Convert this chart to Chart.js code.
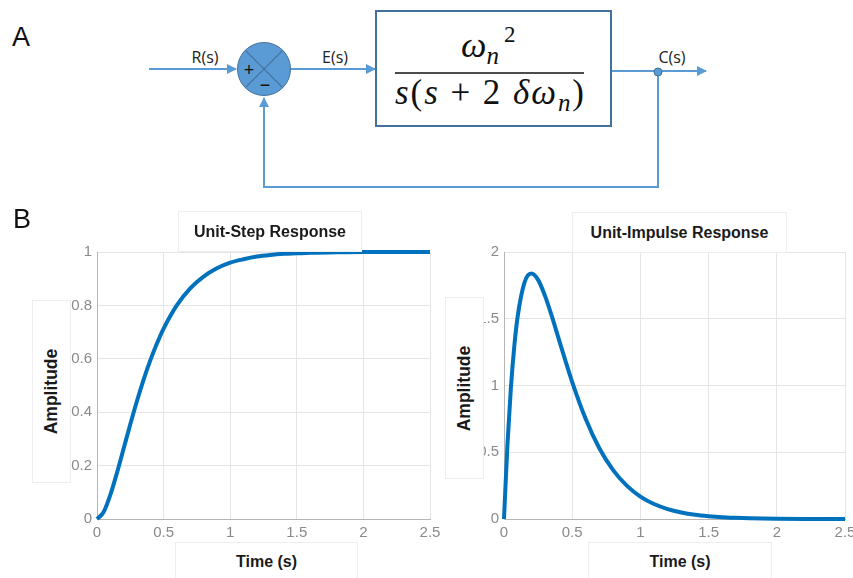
<!DOCTYPE html>
<html><head><meta charset="utf-8">
<script src="https://cdn.jsdelivr.net/npm/chart.js@4/dist/chart.umd.min.js"></script>
<style>
html,body{margin:0;padding:0;background:#fff;}
body{width:853px;height:578px;position:relative;overflow:hidden;font-family:"Liberation Sans",Arial,sans-serif;}
.abs{position:absolute;}
.box{position:absolute;background:#fff;border:1px solid #eeeeee;box-sizing:border-box;display:flex;align-items:center;justify-content:center;font-weight:bold;font-size:16px;color:#1a1a1a;}
.vbox span{transform:rotate(-90deg);white-space:nowrap;display:block;font-size:17.5px;}
.letter{position:absolute;font-family:"Liberation Sans",Arial,sans-serif;font-size:27px;color:#111;line-height:1;}
</style></head>
<body>
<svg class="abs" style="left:0;top:0" width="853" height="200" xmlns="http://www.w3.org/2000/svg">
  <defs>
    <marker id="ah" markerWidth="10" markerHeight="10" refX="9" refY="5" orient="auto" markerUnits="userSpaceOnUse">
      <path d="M0,0 L10,5 L0,10 z" fill="#5B9BD5"/>
    </marker>
  </defs>
  <g stroke="#5B9BD5" stroke-width="2" fill="none">
    <line x1="149" y1="69" x2="236" y2="69" marker-end="url(#ah)"/>
    <line x1="291" y1="69" x2="375" y2="69" marker-end="url(#ah)"/>
    <line x1="611" y1="71" x2="706" y2="71" marker-end="url(#ah)"/>
    <polyline points="658,72 658,187 264,187 264,98" marker-end="url(#ah)"/>
  </g>
  <circle cx="658" cy="72" r="4" fill="#5B9BD5" stroke="#41719C" stroke-width="1"/>
  <circle cx="264" cy="69" r="26.5" fill="#5B9BD5" stroke="#41719C" stroke-width="1"/>
  <g stroke="#41719C" stroke-width="1.2">
    <line x1="245.3" y1="50.3" x2="282.7" y2="87.7"/>
    <line x1="282.7" y1="50.3" x2="245.3" y2="87.7"/>
  </g>
  <text x="249" y="76" font-family="Liberation Sans, Arial, sans-serif" font-size="18" text-anchor="middle" fill="#111">+</text>
  <text x="265" y="91" font-family="Liberation Sans, Arial, sans-serif" font-size="18" text-anchor="middle" fill="#111">−</text>
  <g font-family="Open Sans, Liberation Sans, sans-serif" font-size="16" fill="#222" text-anchor="middle">
    <text x="205" y="63">R(s)</text>
    <text x="335" y="63">E(s)</text>
    <text x="672" y="63">C(s)</text>
  </g>
  <rect x="376" y="11" width="235" height="115" fill="#fff" stroke="#41719C" stroke-width="2"/>
  <line x1="395" y1="73" x2="584" y2="73" stroke="#111" stroke-width="1.5"/>
  <text x="461" y="57" font-family="Liberation Serif, DejaVu Serif, serif" font-size="36" fill="#111"><tspan font-style="italic">ω</tspan><tspan font-style="italic" font-size="25" dy="7">n</tspan><tspan font-size="23" dy="-22" dx="5">2</tspan></text>
  <text x="395" y="104" textLength="189" lengthAdjust="spacing" font-family="Liberation Serif, DejaVu Serif, serif" font-size="35" fill="#111"><tspan font-style="italic">s</tspan><tspan>(</tspan><tspan font-style="italic">s</tspan><tspan> + 2 </tspan><tspan font-style="italic">δω</tspan><tspan font-style="italic" font-size="25" dy="7">n</tspan><tspan dy="-7">)</tspan></text>
</svg>

<div class="abs" style="left:0;top:195px;width:440px;height:383px;"><canvas id="c1" width="440" height="383"></canvas></div>
<div class="abs" style="left:440px;top:195px;width:413px;height:383px;"><canvas id="c2" width="413" height="383"></canvas></div>

<div class="letter" style="left:12px;top:24px;">A</div>
<div class="letter" style="left:13px;top:206px;">B</div>

<div class="box" style="left:178px;top:211px;width:184px;height:41px;">Unit-Step Response</div>
<div class="box" style="left:572px;top:212px;width:215px;height:41px;">Unit-Impulse Response</div>
<div class="box vbox" style="left:32px;top:300px;width:39px;height:183px;"><span>Amplitude</span></div>
<div class="box vbox" style="left:445px;top:297px;width:39px;height:182px;"><span>Amplitude</span></div>
<div class="box" style="left:175px;top:542px;width:183px;height:40px;">Time (s)</div>
<div class="box" style="left:588px;top:542px;width:184px;height:40px;">Time (s)</div>

<script>
// Unit-step response
const stepTime = [0,0.05,0.1,0.15,0.2,0.25,0.3,0.35,0.4,0.45,0.5,0.6,0.7,0.8,0.9,1.0,1.1,1.2,1.3,1.4,1.5,1.6,1.8,2.0,2.2,2.5];
const stepAmp  = [0,0.026,0.090,0.173,0.264,0.355,0.442,0.522,0.594,0.657,0.713,0.801,0.864,0.908,0.939,0.960,0.973,0.983,0.989,0.993,0.995,0.997,0.999,1.0,1.0,1.0];
// Unit-impulse response
const impTime = [0,0.025,0.05,0.075,0.1,0.15,0.2,0.25,0.3,0.35,0.4,0.45,0.5,0.6,0.7,0.8,0.9,1.0,1.1,1.2,1.3,1.4,1.5,1.6,1.7,1.8,1.9,2.0,2.2,2.5];
const impAmp  = [0,0.552,0.974,1.289,1.516,1.771,1.839,1.791,1.673,1.521,1.353,1.186,1.026,0.747,0.528,0.366,0.250,0.168,0.112,0.074,0.049,0.032,0.021,0.013,0.0086,0.0055,0.0036,0.0023,0.0009,0.0001];
const xTicks = [0,0.5,1,1.5,2,2.5];
const stepYTicks = [0,0.2,0.4,0.6,0.8,1];
const impYTicks = [0,0.5,1,1.5,2];

const tickFont = {family:"Liberation Sans, Arial, sans-serif", size:15};
const tickColor = '#8a8a8a';

function makeChart(id, tx, ty, yTicks, yMax, yAxisW, padRight){
  const pts = tx.map((t,i)=>({x:t,y:ty[i]}));
  return new Chart(document.getElementById(id), {
    type:'line',
    data:{datasets:[{data:pts, borderColor:'#0072BD', borderWidth:4, pointRadius:0,
      cubicInterpolationMode:'monotone', fill:false, clip:6}]},
    options:{
      responsive:false, animation:false, maintainAspectRatio:false,
      layout:{padding:{left:0,right:padRight,top:57,bottom:29}},
      plugins:{legend:{display:false}, tooltip:{enabled:false}, title:{display:false}},
      scales:{
        x:{type:'linear', min:0, max:2.5,
          afterBuildTicks:(s)=>{s.ticks = xTicks.map(v=>({value:v}));},
          afterFit:(s)=>{s.height=30; s.paddingLeft=0; s.paddingRight=0;},
          ticks:{color:tickColor, font:tickFont, padding:5, maxRotation:0,
            callback:(v)=>String(v)},
          grid:{color:'#e4e4e4', drawTicks:false},
          border:{color:'#b5b5b5'}},
        y:{type:'linear', min:0, max:yMax,
          afterBuildTicks:(s)=>{s.ticks = yTicks.map(v=>({value:v}));},
          afterFit:(s)=>{s.width=yAxisW; s.paddingTop=0; s.paddingBottom=0;},
          ticks:{color:tickColor, font:tickFont, padding:5, callback:(v)=>String(v)},
          grid:{color:'#e4e4e4', drawTicks:false},
          border:{color:'#b5b5b5'}}
      }
    }
  });
}
makeChart('c1', stepTime, stepAmp, stepYTicks, 1, 97, 10);
makeChart('c2', impTime, impAmp, impYTicks, 2, 64, 8);
</script>
</body></html>
